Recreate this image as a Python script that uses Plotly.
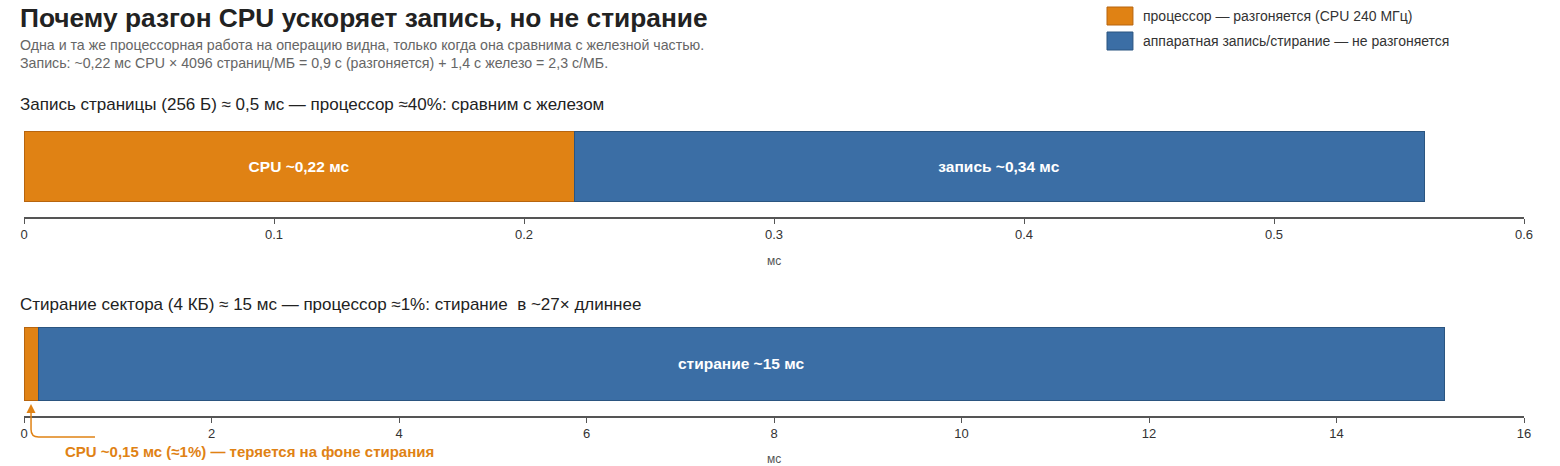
import plotly.graph_objects as go
from plotly.subplots import make_subplots

# per-operation timing, ms
ops = ["write", "erase"]
cpu_ms = [0.22, 0.15]
hw_ms = [0.34, 15.0]
cpu_labels = ["CPU ~0,22 мс", ""]
hw_labels = ["запись ~0,34 мс", "стирание ~15 мс"]
x_ranges = [[0, 0.6], [0, 16]]
x_ticks = [[0, 0.1, 0.2, 0.3, 0.4, 0.5, 0.6], [0, 2, 4, 6, 8, 10, 12, 14, 16]]
panel_titles = [
    "Запись страницы (256 Б) ≈ 0,5 мс — процессор ≈40%: сравним с железом",
    "Стирание сектора (4 КБ) ≈ 15 мс — процессор ≈1%: стирание  в ~27× длиннее",
]
legend_names = ["процессор — разгоняется (CPU 240 МГц)",
                "аппаратная запись/стирание — не разгоняется"]

ORANGE = "#E08214"
ORANGE_EDGE = "#B7650F"
BLUE = "#3B6EA5"
BLUE_EDGE = "#2B5580"
FONT = "Liberation Sans, Arial, sans-serif"

fig = make_subplots(rows=2, cols=1, vertical_spacing=0.3)

for i in range(2):
    r = i + 1
    fig.add_trace(go.Bar(
        y=[0], x=[cpu_ms[i]], orientation="h", width=0.7,
        marker=dict(color=ORANGE, line=dict(color=ORANGE_EDGE, width=1)),
        text=[cpu_labels[i]], textposition="inside", insidetextanchor="middle",
        textfont=dict(color="white", size=15.5, family=FONT, weight="bold"),
        showlegend=False, hoverinfo="x"), row=r, col=1)
    fig.add_trace(go.Bar(
        y=[0], x=[hw_ms[i]], orientation="h", width=0.7,
        marker=dict(color=BLUE, line=dict(color=BLUE_EDGE, width=1)),
        text=[hw_labels[i]], textposition="inside", insidetextanchor="middle",
        textfont=dict(color="white", size=15.5, family=FONT, weight="bold"),
        showlegend=False, hoverinfo="x"), row=r, col=1)

fig.update_layout(
    barmode="stack",
    width=1560, height=466,
    margin=dict(l=24, r=36, t=116, b=50, autoexpand=False),
    plot_bgcolor="white", paper_bgcolor="white",
    font=dict(family=FONT, color="#333"),
    showlegend=False,
)

# plot areas: 116..217 px and 312..416 px
fig.update_layout(
    yaxis=dict(domain=[0.6633, 1.0], range=[-0.5, 0.5], visible=False),
    yaxis2=dict(domain=[0.0, 0.3467], range=[-0.5, 0.5], visible=False),
)
for i in range(2):
    fig.update_xaxes(
        range=x_ranges[i], tickvals=x_ticks[i], automargin=False,
        showgrid=False, zeroline=False,
        showline=True, linecolor="#555", linewidth=1.5,
        ticks="outside", ticklen=5, tickcolor="#555", tickwidth=1,
        tickfont=dict(size=13, color="#333"),
        title=dict(text="мс", font=dict(size=12, color="#555"), standoff=15),
        row=i + 1, col=1)

ann = []
ann.append(dict(text="<b>Почему разгон CPU ускоряет запись, но не стирание</b>",
                xref="paper", yref="paper", x=-0.004, y=1.3267,
                xanchor="left", yanchor="middle", showarrow=False,
                font=dict(size=26.3, color="#222")))
ann.append(dict(text="Одна и та же процессорная работа на операцию видна, только когда она сравнима с железной частью.<br>"
                     "Запись: ~0,22 мс CPU × 4096 страниц/МБ = 0,9 с (разгоняется) + 1,4 с железо = 2,3 с/МБ.",
                xref="paper", yref="paper", x=-0.004, y=1.2053,
                xanchor="left", yanchor="middle", align="left", showarrow=False,
                font=dict(size=14.2, color="#666")))
for t, y in zip(panel_titles, [1.0367, 0.3733]):
    ann.append(dict(text=t, xref="paper", yref="paper", x=-0.004, y=y,
                    xanchor="left", yanchor="middle", showarrow=False,
                    font=dict(size=17, color="#222")))

# custom legend
shapes = []
for name, col, edge, y0 in zip(legend_names, [ORANGE, BLUE], [ORANGE_EDGE, BLUE_EDGE], [1.3633, 1.28]):
    shapes.append(dict(type="rect", xref="paper", yref="paper",
                       x0=0.722, x1=0.7393, y0=y0 - 0.06, y1=y0,
                       fillcolor=col, line=dict(color=edge, width=1)))
    ann.append(dict(text=name, xref="paper", yref="paper", x=0.7447, y=y0 - 0.03,
                    xanchor="left", yanchor="middle", showarrow=False,
                    font=dict(size=14, color="#333")))

# callout for the tiny CPU slice of the erase
tip_x = cpu_ms[1] / 2
shapes.append(dict(type="path", xref="x2", yref="paper",
                   path=f"M 0.757,-0.07 L {tip_x + 0.08},-0.07 Q {tip_x},-0.07 {tip_x},-0.045 L {tip_x},0.03",
                   line=dict(color=ORANGE, width=1.5)))
ann.append(dict(text="", xref="x2", yref="paper", x=tip_x, y=0.04,
                ax=0, ay=8, showarrow=True, arrowhead=2, arrowsize=1.2,
                arrowwidth=1.5, arrowcolor=ORANGE))
ann.append(dict(text="<b>CPU ~0,15 мс (≈1%) — теряется на фоне стирания</b>",
                xref="x2", yref="paper", x=0.416, y=-0.1167,
                xanchor="left", yanchor="middle", showarrow=False,
                font=dict(size=15, color=ORANGE)))

fig.update_layout(annotations=ann, shapes=shapes)

fig.write_html("out.html", config={"displayModeBar": False},
               post_script="document.body.style.margin='0';")
